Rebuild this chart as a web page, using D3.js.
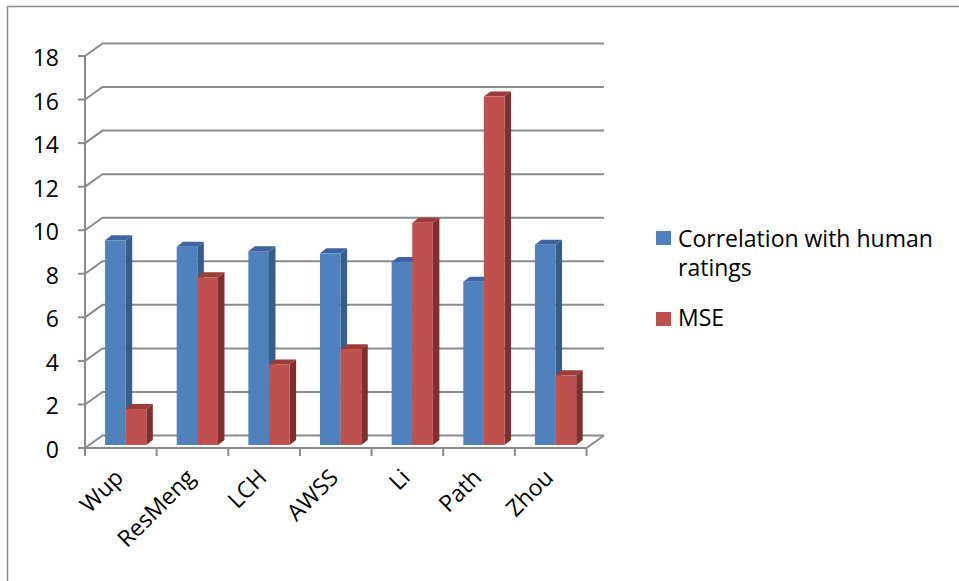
<!DOCTYPE html>
<html>
<head>
<meta charset="utf-8">
<script src="https://cdn.jsdelivr.net/npm/d3@7"></script>
<style>
  html, body { margin: 0; padding: 0; background: #ffffff; }
  svg { display: block; }
  text { font-family: "Open Sans", Lato, sans-serif; fill: #000; }
</style>
</head>
<body>
<svg id="chart" width="959" height="581"></svg>
<script>
// Methods and their scores
const categories = ["Wup", "ResMeng", "LCH", "AWSS", "Li", "Path", "Zhou"];
const correlation = [9.4, 9.1, 8.9, 8.8, 8.4, 7.5, 9.2];
const mse = [1.65, 7.7, 3.7, 4.4, 10.2, 16.0, 3.2];
const seriesNames = ["Correlation with human ratings", "MSE"];
const yTicks = [0, 2, 4, 6, 8, 10, 12, 14, 16, 18];

const svg = d3.select("#chart");
const fontSize = "23px";

// chart frame
svg.append("rect")
  .attr("x", 7.5).attr("y", 6.5)
  .attr("width", 960).attr("height", 590)
  .attr("fill", "#fff")
  .attr("stroke", "#8a8a8a").attr("stroke-width", 1.5);

// front plane scales
const x = d3.scaleBand().domain(categories).range([85, 586.5]);
const y = d3.scaleLinear().domain([0, 18]).range([448, 56]);

// depth offsets: back wall and bar thickness
const wallDx = 17.5, wallDy = -12.5;
const barDx = 6.5, barDy = -5;
const barLift = 3;

const gridColor = "#8a8a8a";
const grid = svg.append("g").attr("fill", "none").attr("stroke", gridColor).attr("stroke-width", 2);

const x0 = x.range()[0], x1 = x.range()[1];

// back wall gridlines with side-wall diagonals
yTicks.forEach(v => {
  const yf = y(v);
  grid.append("path")
    .attr("d", `M${x0},${yf}L${x0 + wallDx},${yf + wallDy}L${x1 + wallDx},${yf + wallDy}`);
});

// floor front edge and right diagonal
grid.append("path").attr("d", `M${x0},${y(0)}L${x1},${y(0)}L${x1 + wallDx},${y(0) + wallDy}`);
// vertical axis line
grid.append("path").attr("d", `M${x0},${y(0)}L${x0},${y(18)}`);

// y ticks
yTicks.forEach(v => {
  grid.append("path").attr("d", `M${x0 - 7},${y(v)}L${x0},${y(v)}`);
});
// x ticks
categories.forEach(c => {
  grid.append("path").attr("d", `M${x(c)},${y(0)}L${x(c)},${y(0) + 8}`);
});
grid.append("path").attr("d", `M${x1},${y(0)}L${x1},${y(0) + 8}`);

// y labels
svg.append("g").selectAll("text").data(yTicks).join("text")
  .attr("x", 59).attr("y", d => y(d) + 10)
  .attr("text-anchor", "end")
  .style("font-size", fontSize)
  .text(d => d);

// x labels, rotated
svg.append("g").selectAll("text").data(categories).join("text")
  .attr("transform", d => `translate(${x(d) + x.bandwidth() / 2 + 4},${479}) rotate(-45)`)
  .attr("text-anchor", "end")
  .style("font-size", fontSize)
  .text(d => d);

// bars
const palette = [
  { front: "#4f81bd", side: "#385d8a", top: "#3d64a0" },
  { front: "#c0504d", side: "#7f302e", top: "#9c3b39" }
];
const seriesData = [correlation, mse];
const bw = x.bandwidth();
const barW = bw * 0.288;
const barsG = svg.append("g");

categories.forEach((c, ci) => {
  seriesData.forEach((vals, si) => {
    const v = vals[ci];
    const bx0 = x(c) + bw * 0.28 + si * barW;
    const bx1 = bx0 + barW;
    const top = y(v) - barLift;
    const bot = y(0) - barLift;
    const col = palette[si];
    const g = barsG.append("g");
    // side face
    g.append("path")
      .attr("d", `M${bx1},${top}L${bx1 + barDx},${top + barDy}L${bx1 + barDx},${bot + barDy}L${bx1},${bot}Z`)
      .attr("fill", col.side);
    // top face
    g.append("path")
      .attr("d", `M${bx0},${top}L${bx0 + barDx},${top + barDy}L${bx1 + barDx},${top + barDy}L${bx1},${top}Z`)
      .attr("fill", col.top);
    // front face
    g.append("rect")
      .attr("x", bx0).attr("y", top)
      .attr("width", barW).attr("height", bot - top)
      .attr("fill", col.front);
  });
});

// legend
const legend = svg.append("g");
legend.append("rect").attr("x", 656).attr("y", 231).attr("width", 15).attr("height", 14).attr("fill", palette[0].front);
legend.append("text").attr("x", 678).attr("y", 247).style("font-size", fontSize).text("Correlation with human");
legend.append("text").attr("x", 678).attr("y", 276).style("font-size", fontSize).text("ratings");
legend.append("rect").attr("x", 656).attr("y", 312).attr("width", 15).attr("height", 14).attr("fill", palette[1].front);
legend.append("text").attr("x", 678).attr("y", 326).style("font-size", fontSize).text(seriesNames[1]);
</script>
</body>
</html>
